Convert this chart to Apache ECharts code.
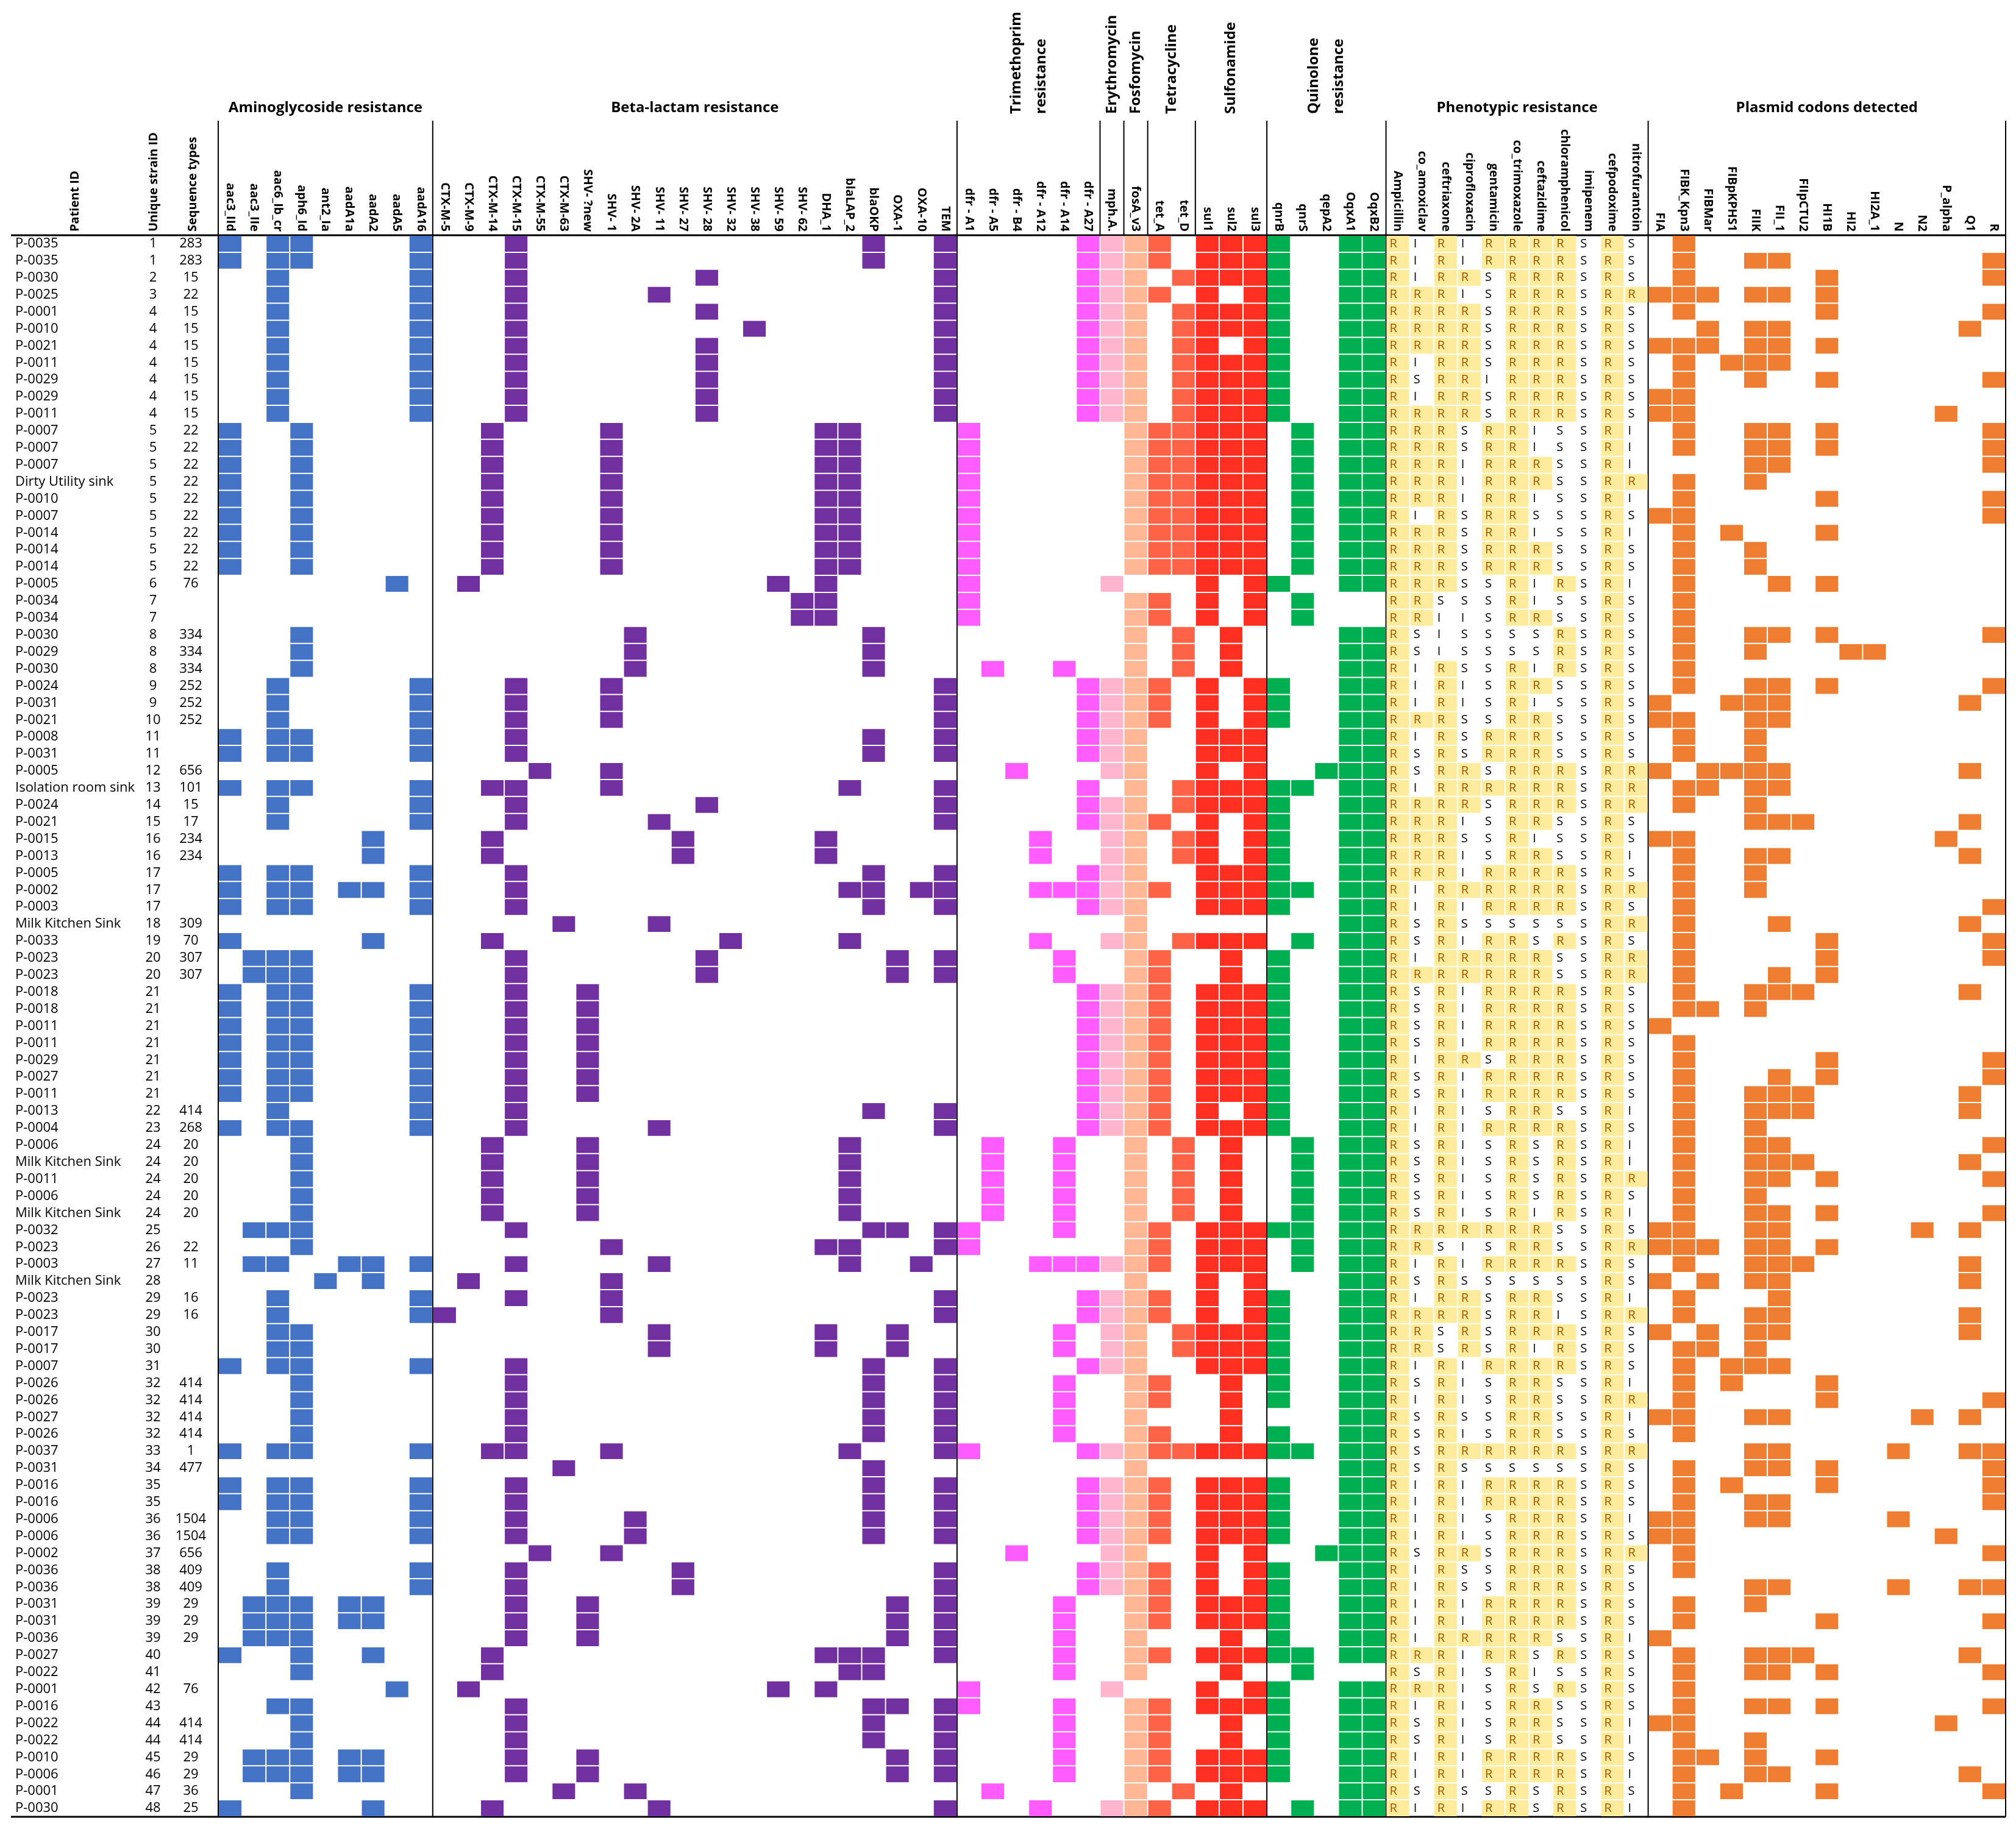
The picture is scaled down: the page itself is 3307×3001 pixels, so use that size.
<!DOCTYPE html>
<html><head><meta charset="utf-8">
<script src="https://cdn.jsdelivr.net/npm/echarts@6/dist/echarts.min.js"></script>
<style>html,body{margin:0;padding:0;background:#fff}#c{width:3307px;height:3001px}</style>
</head><body><div id="c"></div>
<script>
// ---------- row labels ----------
const patientIds = [
 'P-0035','P-0035','P-0030','P-0025','P-0001','P-0010','P-0021','P-0011','P-0029','P-0029',
 'P-0011','P-0007','P-0007','P-0007','Dirty Utility sink','P-0010','P-0007','P-0014','P-0014','P-0014',
 'P-0005','P-0034','P-0034','P-0030','P-0029','P-0030','P-0024','P-0031','P-0021','P-0008',
 'P-0031','P-0005','Isolation room sink','P-0024','P-0021','P-0015','P-0013','P-0005','P-0002','P-0003',
 'Milk Kitchen Sink','P-0033','P-0023','P-0023','P-0018','P-0018','P-0011','P-0011','P-0029','P-0027',
 'P-0011','P-0013','P-0004','P-0006','Milk Kitchen Sink','P-0011','P-0006','Milk Kitchen Sink','P-0032','P-0023',
 'P-0003','Milk Kitchen Sink','P-0023','P-0023','P-0017','P-0017','P-0007','P-0026','P-0026','P-0027',
 'P-0026','P-0037','P-0031','P-0016','P-0016','P-0006','P-0006','P-0002','P-0036','P-0036',
 'P-0031','P-0031','P-0036','P-0027','P-0022','P-0001','P-0016','P-0022','P-0022','P-0010',
 'P-0006','P-0001','P-0030'];
const strainIds = [
 1,1,2,3,4,4,4,4,4,4, 4,5,5,5,5,5,5,5,5,5, 6,7,7,8,8,8,9,9,10,11,
 11,12,13,14,15,16,16,17,17,17, 18,19,20,20,21,21,21,21,21,21, 21,22,23,24,24,24,24,24,25,26,
 27,28,29,29,30,30,31,32,32,32, 32,33,34,35,35,36,36,37,38,38, 39,39,39,40,41,42,43,44,44,45,
 46,47,48];
const seqTypes = [
 '283','283','15','22','15','15','15','15','15','15',
 '15','22','22','22','22','22','22','22','22','22',
 '76','','','334','334','334','252','252','252','',
 '','656','101','15','17','234','234','','','',
 '309','70','307','307','','','','','','',
 '','414','268','20','20','20','20','20','','22',
 '11','','16','16','','','','414','414','414',
 '414','1','477','','','1504','1504','656','409','409',
 '29','29','29','','','76','','414','414','29',
 '29','36','25'];

// ---------- column labels ----------
const aminoGenes = ['aac3_IId','aac3_IIe','aac6_Ib_cr','aph6_Id','ant2_Ia','aadA1a','aadA2','aadA5','aadA16'];
const betaGenes = ['CTX-M-5','CTX-M-9','CTX-M-14','CTX-M-15','CTX-M-55','CTX-M-63','SHV- ?new','SHV- 1','SHV- 2A','SHV- 11','SHV- 27','SHV- 28','SHV- 32','SHV- 38','SHV- 59','SHV- 62','DHA_1','blaLAP_2','blaOKP','OXA-1','OXA-10','TEM'];
const trimGenes = ['dfr - A1','dfr - A5','dfr - B4','dfr - A12','dfr - A14','dfr - A27'];
const eryGenes = ['mph.A.'];
const fosGenes = ['fosA_v3'];
const tetGenes = ['tet_A','tet_D'];
const sulGenes = ['sul1','sul2','sul3'];
const quinGenes = ['qnrB','qnrS','qepA2','OqxA1','OqxB2'];
const phenoDrugs = ['Ampicillin','co_amoxiclav','ceftriaxone','ciprofloxacin','gentamicin','co_trimoxazole','ceftazidime','chloramphenicol','imipenem','cefpodoxime','nitrofurantoin'];
const plasmidReplicons = ['FIA','FIBK_Kpn3','FIBMar','FIBpKPHS1','FIIK','FII_1','FIIpCTU2','HI1B','HI2','HI2A_1','N','N2','P_alpha','Q1','R'];

// ---------- presence data (1 = detected) ----------
const aminoRows = [
 '101100001','101100001','001000001','001000001','001000001','001000001','001000001','001000001','001000001','001000001',
 '001000001','100100000','100100000','100100000','100100000','100100000','100100000','100100000','100100000','100100000',
 '000000010','000000000','000000000','000100000','000100000','000100000','001000001','001000001','001000001','101100001',
 '101100001','000000000','101100001','001000001','001000001','000000100','000000100','101100001','101101101','101100001',
 '000000000','100000100','011100000','011100000','101100001','101100001','101100001','101100001','101100001','101100001',
 '101100001','001000001','101100001','000100000','000100000','000100000','000100000','000100000','011100000','000100000',
 '011001101','000010100','001000001','001000001','001100000','001100000','101100001','000100000','000100000','000100000',
 '000100000','101100001','000000000','101100001','101100001','001100001','001100001','000000000','001000001','001000001',
 '011101100','011101100','011100000','100100100','000100000','000000010','001100000','000100000','000100000','011101100',
 '011101100','000100000','100000100'];
// beta-lactam: indices of detected genes
const betaRows = [
 [3,18,21],[3,18,21],[3,11,21],[3,9,21],[3,11,21],[3,13,21],[3,11,21],[3,11,21],[3,11,21],[3,11,21],
 [3,11,21],[2,7,16,17],[2,7,16,17],[2,7,16,17],[2,7,16,17],[2,7,16,17],[2,7,16,17],[2,7,16,17],[2,7,16,17],[2,7,16,17],
 [1,14,16],[15,16],[15,16],[8,18],[8,18],[8,18],[3,7,21],[3,7,21],[3,7,21],[3,18,21],
 [3,18,21],[4,7],[2,3,7,17,21],[3,11,21],[3,9,21],[2,10,16],[2,10,16],[3,18,21],[3,17,18,20,21],[3,18,21],
 [5,9],[2,12,17],[3,11,19,21],[3,11,19,21],[3,6],[3,6],[3,6],[3,6],[3,6],[3,6],
 [3,6],[3,18,21],[3,9,21],[2,6,17],[2,6,17],[2,6,17],[2,6,17],[2,6,17],[3,18,19,21],[7,16,17,21],
 [3,9,17,20],[1,7],[3,7,21],[0,7,21],[9,16,19],[9,16,19],[3,18,21],[3,18,21],[3,18,21],[3,18,21],
 [3,18,21],[2,3,7,17,21],[5,18],[3,18,21],[3,18,21],[3,8,18,21],[3,8,18,21],[4,7],[3,10,21],[3,10,21],
 [3,6,19,21],[3,6,19,21],[3,6,19,21],[2,16,17,18,21],[2,17,18],[1,14,16],[3,18,19,21],[3,18,21],[3,18,21],[3,6,19,21],
 [3,6,19,21],[5,8],[2,9,21]];
const trimRows = [
 '000001','000001','000001','000001','000001','000001','000001','000001','000001','000001',
 '000001','100000','100000','100000','100000','100000','100000','100000','100000','100000',
 '100000','100000','100000','000000','000000','010010','000001','000001','000001','000001',
 '000001','001000','000001','000001','000001','000100','000100','000001','000111','000001',
 '000000','000100','000010','000010','000001','000001','000001','000001','000001','000001',
 '000001','000001','000001','010010','010010','010010','010010','010010','100010','100000',
 '000111','000000','000001','000001','000010','000010','000001','000010','000010','000010',
 '000010','100001','000000','000001','000001','000001','000001','001000','000001','000001',
 '000010','000010','000010','000010','000010','100000','100010','000010','000010','000010',
 '000010','010000','000100'];
const eryRows = [
 '1','1','1','1','1','1','1','1','1','1',
 '1','0','0','0','0','0','0','0','0','0',
 '1','0','0','0','0','0','1','1','1','1',
 '1','1','0','1','1','1','1','1','1','1',
 '0','1','0','0','1','1','1','1','1','1',
 '1','1','1','0','0','0','0','0','0','0',
 '1','0','1','1','1','1','1','0','0','0',
 '0','1','0','1','1','1','1','1','1','1',
 '0','0','0','0','0','1','0','0','0','0',
 '0','0','1'];
const fosRows = [
 '1','1','1','1','1','1','1','1','1','1',
 '1','1','1','1','1','1','1','1','1','1',
 '0','1','1','1','1','1','1','1','1','1',
 '1','1','1','1','1','1','1','1','1','1',
 '1','1','1','1','1','1','1','1','1','1',
 '1','1','1','1','1','1','1','1','1','1',
 '1','1','1','1','1','1','1','1','1','1',
 '1','1','1','1','1','1','1','1','1','1',
 '1','1','1','1','1','0','1','1','1','1',
 '1','1','1'];
const tetRows = [
 '10','10','01','10','01','01','01','01','01','01',
 '01','11','11','11','11','11','11','11','11','11',
 '00','10','10','01','01','01','10','10','10','00',
 '00','00','01','01','10','01','01','00','10','00',
 '00','01','10','10','10','10','10','10','10','10',
 '10','10','10','01','01','01','01','01','10','10',
 '10','00','10','10','01','01','00','10','10','00',
 '10','11','00','10','10','10','10','00','10','10',
 '10','10','00','10','00','00','10','10','10','10',
 '10','01','10'];
const sulRows = [
 '111','111','111','101','111','111','101','111','111','111',
 '111','111','111','111','111','111','111','111','111','111',
 '101','101','101','010','010','010','101','101','101','111',
 '111','101','111','111','101','101','101','111','111','111',
 '000','111','010','010','111','111','111','111','111','111',
 '111','101','111','010','010','010','010','010','111','111',
 '111','101','101','101','111','111','111','010','010','010',
 '010','111','000','111','111','111','111','101','101','101',
 '111','111','010','111','010','101','111','010','010','111',
 '111','010','111'];
const quinRows = [
 '10011','10011','10011','10011','10011','10011','10011','10011','10011','10011',
 '10011','01011','01011','01011','01011','01011','01011','01011','01011','01011',
 '10011','01000','01000','00011','00011','00011','10011','10011','10011','00011',
 '00011','00111','11011','10011','10011','10011','10011','10011','11011','10011',
 '00011','01011','10011','10011','10011','10011','10011','10011','10011','10011',
 '10011','10011','10011','01011','01011','01011','01011','01011','11011','01011',
 '01011','00011','10011','10011','10011','10011','10011','10011','10011','00011',
 '10011','11011','00011','10011','10011','10011','10011','00111','10011','10011',
 '10011','10011','10011','11011','01000','10011','10011','10011','10011','10011',
 '10011','00011','01011'];
// phenotypic results, one letter per drug
const phenoRows = [
 'RIRIRRRRSRS','RIRIRRRRSRS','RIRRSRRRSRS','RRRISRRRSRR','RRRRSRRRSRS','RRRRSRRRSRS','RRRRSRRRSRS','RIRRSRRRSRS','RSRRIRRRSRS','RIRRSRRRSRS',
 'RRRRSRRRSRS','RRRSRRISSRI','RRRSRRISSRI','RRRIRRRSSRI','RRRIRRRSSRR','RRRIRRISSRI','RIRSRRSSSRS','RRRSRRISSRI','RRRSRRRSSRS','RRRSRRRSSRS',
 'RRRSSRIRSRI','RRSSSRISSRS','RRIISRRSSRS','RSISSSSRSRS','RSISSSSRSRS','RIRSSRIRSRS','RIRISRRSSRS','RIRISRISSRS','RRRSSRRSSRS','RIRSRRRSSRS',
 'RSRSRRRSSRS','RSRRSRRRSRR','RIRRRRRRSRR','RRRRSRRRSRR','RRRISRRSSRS','RRRSSRISSRS','RRRISRRSSRI','RRRIRRRRSRS','RIRRRRRRSRR','RIRIRRRRSRS',
 'RSRSSSSSSRR','RSRIRRSRSRS','RIRRRRRSSRR','RRRRRRRSSRR','RSRIRRRRSRS','RSRIRRRRSRS','RSRIRRRRSRS','RSRIRRRRSRS','RIRRSRRRSRS','RSRIRRRRSRS',
 'RSRIRRRRSRS','RIRISRRSSRI','RIRIRRRRSRS','RSRISRSRSRI','RSRISRSRSRI','RSRISRSRSRR','RSRISRSRSRS','RSRISRIRSRI','RRRRRRRSSRS','RRSISRRSSRR',
 'RIRIRRRRSRS','RSRSSSSSSRS','RIRRSRRSSRI','RRRRSRRISRR','RRSRSRRRSRS','RRSRSRIRSRS','RIRIRRRRSRS','RSRISRRSSRI','RIRISRRSSRR','RSRSSRRSSRI',
 'RSRISRRSSRS','RSRRRRRRSRR','RSRSSSSSSRS','RIRIRRRRSRS','RIRIRRRRSRS','RIRISRRRSRI','RIRISRRRSRS','RSRRSRRRSRR','RIRSSRRRSRS','RIRSSRRRSRS',
 'RIRIRRRRSRS','RIRIRRRRSRS','RIRRRRRSSRI','RRRIRRSRSRS','RSRISRISSRS','RRRISRSRSRS','RIRISRRSSRS','RSRISRRSSRI','RSRISRRSSRI','RIRIRRRRSRS',
 'RIRIRRRRSRI','RSRSSRSRSRS','RIRIRRSRSRI'];
// plasmid replicons: indices of detected replicons
const plasmidRows = [
 [1],[1,4,5,14],[1,7,14],[0,1,2,4,5,7],[1,7,14],[2,4,5,13],[0,1,2,4,5,7],[1,3,4,5],[1,4,7,14],[0,1],
 [0,1,12],[1,4,5,7,14],[1,4,5,7,14],[4,5,14],[1,4],[1,7,14],[0,1,14],[1,3,7],[1,4],[1,4],
 [1,5,7],[1],[1],[1,4,5,7,14],[1,4,8,9],[1],[1,4,5,7,14],[0,3,4,5,13],[0,1,4,5],[1,4],
 [1,4],[0,2,3,4,5,13],[1,2,4,5],[1,4],[4,5,6,13],[0,1,12],[1,4,5,13],[1,4],[1,4],[1,14],
 [1,5,13],[1,7,14],[1,7,14],[1,5,7],[1,4,5,6,13],[1,2,4],[0],[1],[1,7,14],[1,5,7,14],
 [1,4,5,6,13],[1,4,5,6,13],[1,4],[1,4,5,14],[1,4,5,6,13],[1,4,5,7,14],[1,4],[1,4,5,7,14],[0,1,4,5,11,13],[0,1,2,4,5,7],
 [1,4,5,6,13],[0,2,4,5,13],[1,5],[1,4,5,13],[0,2,4,5,13],[1,2,4],[1,3,4,5],[1,3,7],[1,7,14],[0,1,4,5,11,13],
 [1],[4,5,10,13,14],[1,4,5,7,14],[1,3,7,14],[1,4,5,14],[0,1,4,5,10],[0,1,12],[1,14],[1],[4,5,10,13,14],
 [1,4],[1,7,14],[0],[1,4,5,6,13],[1,4,5,7,14],[1],[1,4,5,7,14],[0,1,12],[1,4],[1,2,4,7],
 [1,4,5,13],[1,3,7,14],[1]];

// ---------- styling ----------
const FONT = 'Open Sans';
const groups = [
 {title:'Aminoglycoside resistance', mode:'h', genes:aminoGenes, color:'#4472C4', has:(r,j)=>aminoRows[r][j]==='1', full:true},
 {title:'Beta-lactam resistance', mode:'h', genes:betaGenes, color:'#7030A0', has:(r,j)=>betaRows[r].indexOf(j)>=0, full:true},
 {title:'Trimethoprim\nresistance', mode:'v', genes:trimGenes, color:'#FF5CFF', has:(r,j)=>trimRows[r][j]==='1', full:true},
 {title:'Erythromycin', mode:'v', genes:eryGenes, color:'#FFB4CD', has:(r,j)=>eryRows[r][j]==='1', full:false},
 {title:'Fosfomycin', mode:'v', genes:fosGenes, color:'#FFB694', has:(r,j)=>fosRows[r][j]==='1', full:false},
 {title:'Tetracycline', mode:'v', genes:tetGenes, color:'#FF6347', has:(r,j)=>tetRows[r][j]==='1', full:false},
 {title:'Sulfonamide', mode:'v', genes:sulGenes, color:'#FF2F22', has:(r,j)=>sulRows[r][j]==='1', full:false},
 {title:'Quinolone\nresistance', mode:'v', genes:quinGenes, color:'#00B050', has:(r,j)=>quinRows[r][j]==='1', full:true},
 {title:'Phenotypic resistance', mode:'h', genes:phenoDrugs, pheno:true, full:true},
 {title:'Plasmid codons detected', mode:'h', genes:plasmidReplicons, color:'#ED7D31', has:(r,j)=>plasmidRows[r].indexOf(j)>=0, full:true}
];

const allCols = [];
const cells = [];
let off = 0;
groups.forEach(g => {
  g.start = off;
  g.genes.forEach(n => allCols.push(n));
  for (let r = 0; r < patientIds.length; r++) {
    for (let j = 0; j < g.genes.length; j++) {
      if (g.pheno) {
        const t = phenoRows[r][j];
        cells.push({c: off + j, r, fill: t === 'R' ? '#FFEB9C' : null, text: t, tc: t === 'R' ? '#9C5700' : '#000000'});
      } else if (g.has(r, j)) {
        cells.push({c: off + j, r, fill: g.color});
      }
    }
  }
  off += g.genes.length;
  g.end = off;
});

const chart = echarts.init(document.getElementById('c'), null, {renderer: 'canvas'});
const option = {
  animation: false,
  backgroundColor: '#ffffff',
  grid: {left: 358, right: 17, top: 386, bottom: 20, containLabel: false},
  xAxis: {
    type: 'category', position: 'top', data: allCols,
    axisLine: {show: false}, axisTick: {show: false}, splitLine: {show: false},
    axisLabel: {interval: 0, rotate: 90, margin: 6, color: '#000', fontSize: 20, fontWeight: 'bold', fontFamily: FONT}
  },
  yAxis: {
    type: 'category', inverse: true, data: patientIds.map((_, i) => String(i)),
    axisLine: {show: false}, axisTick: {show: false}, splitLine: {show: false},
    axisLabel: {
      interval: 0, margin: 8, color: '#000', fontSize: 22, fontFamily: FONT,
      formatter: v => {
        const i = Number(v);
        const s = seqTypes[i] === '' ? ' ' : seqTypes[i];
        return '{a|' + patientIds[i] + '}{b|' + strainIds[i] + '}{c|' + s + '}';
      },
      rich: {
        a: {width: 201, align: 'left', fontSize: 22, fontFamily: FONT, color: '#000'},
        b: {width: 50, align: 'center', fontSize: 22, fontFamily: FONT, color: '#000'},
        c: {width: 74, align: 'center', fontSize: 22, fontFamily: FONT, color: '#000'}
      }
    }
  },
  series: [{
    type: 'custom', silent: true, clip: false,
    data: cells.map(d => [d.c, d.r]),
    renderItem: function (params, api) {
      const d = cells[params.dataIndex];
      const p = api.coord([api.value(0), api.value(1)]);
      const s = api.size([1, 1]);
      const left = p[0] - s[0] / 2, top = p[1] - s[1] / 2;
      const ch = [];
      if (d.fill) ch.push({type: 'rect', shape: {x: left + 1, y: top + 1, width: s[0] - 2, height: s[1] - 2}, style: {fill: d.fill}});
      if (d.text) ch.push({type: 'text', x: left + 6, y: p[1], style: {text: d.text, fill: d.tc, fontSize: 20, fontFamily: FONT, align: 'left', verticalAlign: 'middle'}});
      return {type: 'group', children: ch};
    }
  }]
};
chart.setOption(option);

// ---------- header decorations from the axes ----------
const cx = i => chart.convertToPixel({xAxisIndex: 0}, i);
const cy = i => chart.convertToPixel({yAxisIndex: 0}, i);
const cw = cx(1) - cx(0);
const rh = cy(1) - cy(0);
const edge = i => cx(i) - cw / 2;
const gridTop = cy(0) - rh / 2;
const gridBottom = cy(patientIds.length - 1) + rh / 2;
const sepTop = 198;
const g = [];
const line = (x1, y1, x2, y2, w) => g.push({type: 'line', shape: {x1, y1, x2, y2}, style: {stroke: '#000', lineWidth: w}, silent: true});
groups.forEach(gr => {
  const x = edge(gr.start);
  line(x, sepTop, x, gr.full ? gridBottom : gridTop, 2);
  const mid = (edge(gr.start) + edge(gr.end)) / 2;
  if (gr.mode === 'h') {
    g.push({type: 'text', x: mid, y: 177, silent: true, style: {text: gr.title, fill: '#000', fontSize: 24, fontWeight: 'bold', fontFamily: FONT, align: 'center', verticalAlign: 'middle'}});
  } else {
    g.push({type: 'text', x: mid, y: 187, rotation: Math.PI / 2, silent: true, style: {text: gr.title, fill: '#000', fontSize: 24, fontWeight: 'bold', fontFamily: FONT, align: 'left', verticalAlign: 'middle', lineHeight: 41}});
  }
});
const xEnd = edge(allCols.length);
line(xEnd, sepTop, xEnd, gridBottom, 2);
line(18, gridTop, xEnd, gridTop, 3);
line(18, gridBottom, xEnd, gridBottom, 3);
[['Patient ID', 123], ['Unique strain ID', 252], ['Sequence types', 316]].forEach(([t, x]) => {
  g.push({type: 'text', x, y: 380, rotation: Math.PI / 2, silent: true, style: {text: t, fill: '#000', fontSize: 20, fontWeight: 'bold', fontFamily: FONT, align: 'left', verticalAlign: 'middle'}});
});
chart.setOption({graphic: g});
</script>
</body></html>
